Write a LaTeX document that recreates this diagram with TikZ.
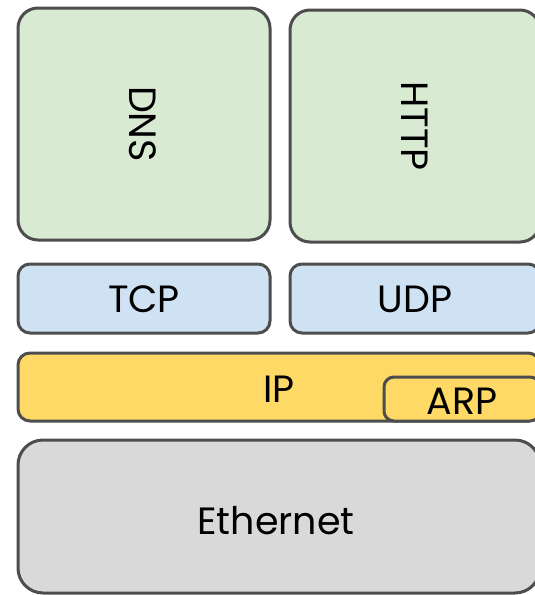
\documentclass[tikz,border=0pt]{standalone}
\usepackage{fontspec}
\setmainfont{Poppins}
\definecolor{stroke}{HTML}{4D4D4D}
\definecolor{appgreen}{HTML}{D9EAD3}
\definecolor{tblue}{HTML}{CFE2F3}
\definecolor{ipyellow}{HTML}{FFD966}
\definecolor{ethgray}{HTML}{D9D9D9}
\tikzset{
  layer/.style={draw=stroke, line width=3pt, rectangle, inner sep=0pt, outer sep=0pt, anchor=north west},
  lbl/.style={font=\fontsize{38}{42}\selectfont, text=black, inner sep=0pt},
}
\begin{document}
\begin{tikzpicture}[x=1pt,y=-1pt]
\useasboundingbox (0,0) rectangle (535,595);
\clip (0,0) rectangle (535,595);
\node[layer, fill=appgreen, rounded corners=20pt, minimum width=252pt, minimum height=232pt] (dns) at (18,8) {};
\node[layer, fill=appgreen, rounded corners=20pt, minimum width=250pt, minimum height=232pt] (http) at (290,10) {};
\node[lbl, rotate=-90] (dnst) at ([xshift=-1pt]dns.center) {DNS};
\node[lbl, rotate=-90] (httpt) at (http.center) {HTTP};
\node[layer, fill=tblue, rounded corners=12pt, minimum width=252pt, minimum height=69pt] (tcp) at (18,264) {};
\node[layer, fill=tblue, rounded corners=12pt, minimum width=250pt, minimum height=69pt] (udp) at (290,264) {};
\node[lbl] (tcpt) at ([yshift=-1pt]tcp.center) {TCP};
\node[lbl] (udpt) at ([yshift=-1pt]udp.center) {UDP};
\node[layer, fill=ipyellow, rounded corners=12pt, minimum width=522pt, minimum height=68pt] (ip) at (18,353) {};
\node[lbl] (ipt) at ([yshift=-2pt]ip.center) {IP};
\node[layer, fill=ipyellow, rounded corners=10pt, minimum width=156pt, minimum height=44pt] (arp) at (384,377) {};
\node[lbl] (arpt) at ([yshift=-2pt]arp.center) {ARP};
\node[layer, fill=ethgray, rounded corners=25pt, minimum width=522pt, minimum height=153pt] (eth) at (18,440) {};
\node[lbl] (etht) at ([xshift=-3pt,yshift=-4pt]eth.center) {Ethernet};
\end{tikzpicture}
\end{document}
